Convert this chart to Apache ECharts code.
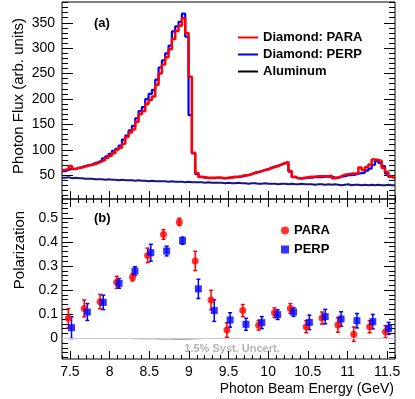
<!DOCTYPE html>
<html>
<head>
<meta charset="utf-8">
<script src="https://cdn.jsdelivr.net/npm/echarts@6/dist/echarts.min.js"></script>
<style>
  html, body { margin: 0; padding: 0; background: #fff; }
  #chart { width: 415px; height: 399px; }
</style>
</head>
<body>
<div id="chart"></div>
<script>
// ---- data ----
// top panel: 100 bins of 0.042 GeV starting at 7.4 GeV
const binStart = 7.4
const binWidth = 0.042
const paraFlux = [
  60, 62, 68, 62, 64, 65, 67, 69, 70, 72,
  74, 77, 80, 84, 88, 93, 100, 104, 112, 125,
  134, 140, 155, 170, 176, 190, 198, 205, 228, 250,
  268, 282, 298, 318, 334, 344, 359, 330, 244, 94,
  54, 47, 46, 45, 45, 45, 45, 45, 44, 45,
  46, 47, 47, 48, 50, 50, 52, 55, 56, 58,
  60, 61, 64, 66, 68, 71, 74, 76, 58, 47,
  44, 44, 45, 46, 47, 47, 48, 48, 48, 48,
  49, 44, 45, 48, 51, 52, 53, 53, 54, 65,
  60, 66, 71, 81, 80, 78, 64, 56, 47, 44
]
const perpFlux = [
  58, 60, 63, 62, 64, 66, 68, 70, 71, 74,
  76, 79, 83, 87, 92, 98, 102, 108, 120, 128,
  138, 147, 162, 176, 184, 200, 210, 218, 238, 262,
  276, 290, 305, 333, 343, 352, 368, 323, 168, 93,
  52, 46, 45, 44, 44, 44, 45, 44, 44, 44,
  45, 46, 46, 47, 49, 50, 52, 54, 56, 58,
  60, 62, 65, 67, 69, 71, 73, 74, 57, 46,
  44, 43, 44, 45, 45, 46, 46, 46, 47, 47,
  47, 45, 45, 47, 48, 50, 50, 51, 53, 54,
  55, 59, 63, 70, 78, 74, 68, 53, 47, 44
]
const alumFlux = [
  45, 46, 44, 45, 44, 44, 43, 43, 43, 42,
  42, 42, 41, 42, 41, 41, 40, 41, 40, 40,
  40, 39, 40, 39, 39, 38, 39, 38, 38, 38,
  38, 37, 38, 37, 37, 37, 36, 37, 36, 36,
  36, 36, 35, 36, 35, 35, 35, 35, 34, 35,
  34, 34, 35, 34, 34, 33, 34, 34, 33, 33,
  34, 33, 33, 33, 32, 33, 33, 32, 33, 32,
  32, 33, 32, 32, 32, 31, 32, 32, 31, 32,
  31, 32, 31, 30, 31, 32, 30, 31, 31, 30,
  31, 30, 31, 30, 31, 30, 30, 31, 30, 30
]

// bottom panel: polarization points
const paraE = [7.48, 7.68, 7.88, 8.09, 8.29, 8.48, 8.68, 8.88, 9.08, 9.28, 9.48, 9.68, 9.88, 10.08, 10.28, 10.48, 10.68, 10.88, 11.08, 11.28, 11.48]
const paraPol = [0.083, 0.124, 0.152, 0.232, 0.253, 0.344, 0.431, 0.483, 0.321, 0.159, 0.034, 0.115, 0.054, 0.106, 0.124, 0.048, 0.084, 0.055, 0.017, 0.048, 0.027]
const paraErr = [0.04, 0.035, 0.03, 0.025, 0.015, 0.03, 0.02, 0.015, 0.04, 0.04, 0.03, 0.025, 0.02, 0.02, 0.02, 0.025, 0.025, 0.03, 0.03, 0.025, 0.025]
const perpE = [7.52, 7.72, 7.92, 8.12, 8.32, 8.52, 8.72, 8.92, 9.12, 9.32, 9.52, 9.72, 9.92, 10.12, 10.32, 10.52, 10.72, 10.92, 11.12, 11.32, 11.52]
const perpPol = [0.044, 0.109, 0.149, 0.228, 0.279, 0.355, 0.362, 0.405, 0.205, 0.115, 0.076, 0.058, 0.065, 0.098, 0.109, 0.066, 0.090, 0.080, 0.073, 0.069, 0.041]
const perpErr = [0.045, 0.035, 0.03, 0.02, 0.018, 0.035, 0.02, 0.015, 0.04, 0.045, 0.03, 0.025, 0.025, 0.02, 0.018, 0.03, 0.03, 0.03, 0.03, 0.03, 0.025]

// 1.5% systematic band (thin grey wedge under zero)
const sysE = [7.45, 7.7, 7.9, 8.1, 8.3, 8.5, 8.7, 8.9, 9.1, 9.3, 9.5, 11.55]
const sysBand = [-0.0012, -0.0018, -0.0023, -0.0035, -0.004, -0.0052, -0.0064, -0.0072, -0.0048, -0.0024, -0.0008, -0.0005]

// tick labels
const fluxLabels = [50, 100, 150, 200, 250, 300, 350]
const polLabels = [0, 0.1, 0.2, 0.3, 0.4, 0.5]
const energyLabels = [7.5, 8, 8.5, 9, 9.5, 10, 10.5, 11, 11.5]

const FONT = 'Liberation Sans, Arial, Helvetica, sans-serif'

function tickRange(from, to, step) {
  const out = []
  const n = Math.round((to - from) / step)
  for (let i = 0; i <= n; i++) out.push(+(from + i * step).toFixed(4))
  return out
}

function histSteps(vals) {
  const pts = vals.map((v, i) => [+(binStart + i * binWidth).toFixed(4), v])
  pts.push([+(binStart + vals.length * binWidth).toFixed(4), vals[vals.length - 1]])
  return pts
}

function errorBars(color) {
  return function(params, api) {
    const x = api.value(0)
    const lo = api.coord([x, api.value(1)])
    const hi = api.coord([x, api.value(2)])
    const cap = 2
    const st = { stroke: color, lineWidth: 1.5 }
    return {
      type: 'group',
      children: [
        { type: 'line', shape: { x1: lo[0], y1: lo[1], x2: hi[0], y2: hi[1] }, style: st },
        { type: 'line', shape: { x1: lo[0] - cap, y1: lo[1], x2: lo[0] + cap, y2: lo[1] }, style: st },
        { type: 'line', shape: { x1: hi[0] - cap, y1: hi[1], x2: hi[0] + cap, y2: hi[1] }, style: st }
      ]
    }
  }
}

const X_MIN = 7.4
const X_MAX = 11.6
const minorX = tickRange(7.4, 11.6, 0.1)

function xTicks(grid, pos, values, len, labels) {
  return {
    gridIndex: grid, type: 'value', position: pos, min: X_MIN, max: X_MAX,
    axisLine: { show: false, onZero: false },
    splitLine: { show: false },
    axisTick: { show: true, inside: true, length: len, customValues: values, lineStyle: { color: '#000', width: 1 } },
    axisLabel: labels
      ? { show: true, customValues: values, color: '#000', fontSize: 14, fontFamily: FONT, margin: 6 }
      : { show: false }
  }
}

function yTicks(grid, pos, min, max, values, len, labels, margin) {
  return {
    gridIndex: grid, type: 'value', position: pos, min: min, max: max,
    axisLine: { show: false, onZero: false },
    splitLine: { show: false },
    axisTick: { show: true, inside: true, length: len, customValues: values, lineStyle: { color: '#000', width: 1 } },
    axisLabel: labels
      ? { show: true, customValues: values, color: '#000', fontSize: 14, fontFamily: FONT, margin: margin }
      : { show: false }
  }
}

const chart = echarts.init(document.getElementById('chart'))

chart.setOption({
  animation: false,
  backgroundColor: '#fff',
  grid: [
    { left: 62, top: 2, width: 333, height: 197, show: true, borderColor: '#000', borderWidth: 1, backgroundColor: 'transparent' },
    { left: 62, top: 199, width: 333, height: 160, show: true, borderColor: '#000', borderWidth: 1, backgroundColor: 'transparent' }
  ],
  xAxis: [
    xTicks(0, 'bottom', energyLabels, 8, false),
    xTicks(0, 'bottom', minorX, 4, false),
    xTicks(1, 'bottom', energyLabels, 8, true),
    xTicks(1, 'bottom', minorX, 4, false),
    xTicks(1, 'top', energyLabels, 8, false),
    xTicks(1, 'top', minorX, 4, false)
  ],
  yAxis: [
    yTicks(0, 'left', 3, 391, fluxLabels, 11, true, 7),
    yTicks(0, 'left', 3, 391, tickRange(10, 390, 10), 6, false),
    yTicks(0, 'right', 3, 391, fluxLabels, 11, false),
    yTicks(0, 'right', 3, 391, tickRange(10, 390, 10), 6, false),
    yTicks(1, 'left', -0.086, 0.578, polLabels, 11, true, 4),
    yTicks(1, 'left', -0.086, 0.578, tickRange(-0.08, 0.56, 0.02), 6, false),
    yTicks(1, 'right', -0.086, 0.578, polLabels, 11, false),
    yTicks(1, 'right', -0.086, 0.578, tickRange(-0.08, 0.56, 0.02), 6, false)
  ],
  legend: [
    {
      orient: 'vertical', left: 233, top: 26, itemWidth: 20, itemHeight: 2, itemGap: 4,
      icon: 'rect',
      textStyle: { fontFamily: FONT, fontSize: 13, fontWeight: 'bold', color: '#000' },
      data: [
        { name: 'Diamond: PARA' },
        { name: 'Diamond: PERP' },
        { name: 'Aluminum', itemStyle: { color: '#000' } }
      ]
    },
    {
      orient: 'vertical', left: 276, top: 219, itemWidth: 8, itemHeight: 8, itemGap: 6,
      textStyle: { fontFamily: FONT, fontSize: 13, fontWeight: 'bold', color: '#000' },
      data: [
        { name: 'PARA', icon: 'circle' },
        { name: 'PERP', icon: 'rect' }
      ]
    }
  ],
  graphic: [
    { type: 'text', x: 19, y: 96, rotation: Math.PI / 2,
      style: { text: 'Photon Flux (arb. units)', align: 'center', verticalAlign: 'middle', font: '15px ' + FONT, fill: '#000' } },
    { type: 'text', x: 20, y: 250, rotation: Math.PI / 2,
      style: { text: 'Polarization', align: 'center', verticalAlign: 'middle', font: '15px ' + FONT, fill: '#000' } },
    { type: 'text', x: 394, y: 389,
      style: { text: 'Photon Beam Energy (GeV)', align: 'right', verticalAlign: 'middle', font: '14px ' + FONT, fill: '#000' } },
    { type: 'text', x: 94, y: 23,
      style: { text: '(a)', align: 'left', verticalAlign: 'middle', font: 'bold 13px ' + FONT, fill: '#000' } },
    { type: 'text', x: 94, y: 218,
      style: { text: '(b)', align: 'left', verticalAlign: 'middle', font: 'bold 13px ' + FONT, fill: '#000' } },
    { type: 'text', x: 232, y: 349,
      style: { text: '1.5% Syst. Uncert.', align: 'center', verticalAlign: 'middle', font: 'bold 11px ' + FONT, fill: '#b4b4b4' } }
  ],
  series: [
    {
      name: 'Aluminum', type: 'line', xAxisIndex: 0, yAxisIndex: 0, step: 'end', symbol: 'none',
      color: '#15157e', lineStyle: { width: 2 }, data: histSteps(alumFlux), z: 2
    },
    {
      name: 'Diamond: PERP', type: 'line', xAxisIndex: 0, yAxisIndex: 0, step: 'end', symbol: 'none',
      color: '#0000ff', lineStyle: { width: 2.2 }, data: histSteps(perpFlux), z: 3
    },
    {
      name: 'Diamond: PARA', type: 'line', xAxisIndex: 0, yAxisIndex: 0, step: 'end', symbol: 'none',
      color: '#ff0000', lineStyle: { width: 2.5 }, data: histSteps(paraFlux), z: 4
    },
    {
      name: 'sys', type: 'line', xAxisIndex: 2, yAxisIndex: 4, symbol: 'none', smooth: true,
      lineStyle: { width: 0 }, areaStyle: { color: '#a8a8a8', opacity: 0.9 },
      data: sysE.map((e, i) => [e, sysBand[i]]),
      markLine: {
        silent: true, symbol: 'none', label: { show: false },
        lineStyle: { color: '#c8c8c8', width: 1, type: 'solid' },
        data: [{ yAxis: 0 }]
      },
      z: 1
    },
    {
      name: 'paraErr', type: 'custom', xAxisIndex: 2, yAxisIndex: 4,
      renderItem: errorBars('#ff0000'), encode: { x: 0, y: [1, 2] },
      data: paraE.map((e, i) => [e, paraPol[i] - paraErr[i], paraPol[i] + paraErr[i]]), z: 3
    },
    {
      name: 'perpErr', type: 'custom', xAxisIndex: 2, yAxisIndex: 4,
      renderItem: errorBars('#0000ff'), encode: { x: 0, y: [1, 2] },
      data: perpE.map((e, i) => [e, perpPol[i] - perpErr[i], perpPol[i] + perpErr[i]]), z: 3
    },
    {
      name: 'PARA', type: 'scatter', xAxisIndex: 2, yAxisIndex: 4, symbol: 'circle', symbolSize: 7,
      color: '#ff0000', data: paraE.map((e, i) => [e, paraPol[i]]), z: 5
    },
    {
      name: 'PERP', type: 'scatter', xAxisIndex: 2, yAxisIndex: 4, symbol: 'rect', symbolSize: 7,
      color: '#0000ff', data: perpE.map((e, i) => [e, perpPol[i]]), z: 5
    }
  ]
})
</script>
</body>
</html>
